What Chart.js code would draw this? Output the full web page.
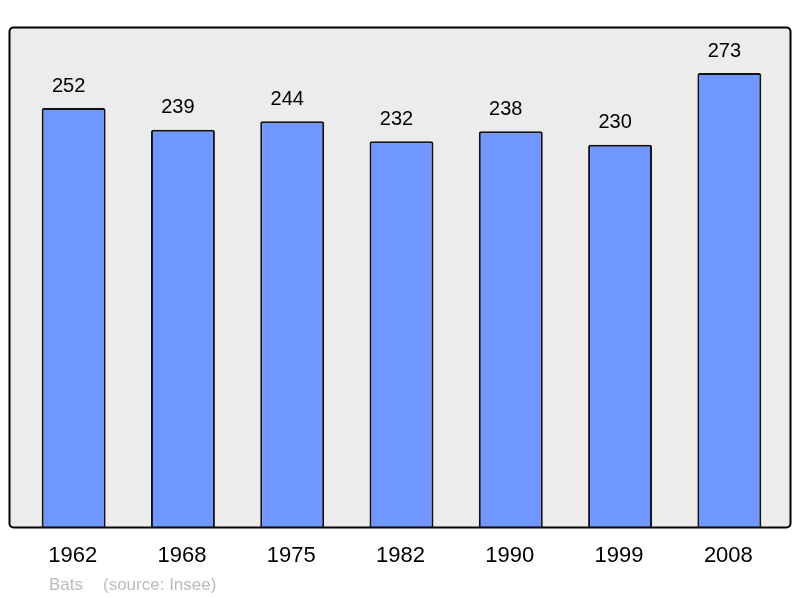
<!DOCTYPE html>
<html>
<head>
<meta charset="utf-8">
<script src="https://cdn.jsdelivr.net/npm/chart.js@4/dist/chart.umd.min.js"></script>
<style>
  html, body { margin: 0; padding: 0; background: #fff; }
  #wrap { width: 800px; height: 598px; }
</style>
</head>
<body>
<div id="wrap"><canvas id="popChart" width="800" height="598"></canvas></div>
<script>
// Population by census year
const years = ["1962", "1968", "1975", "1982", "1990", "1999", "2008"];
const population = [252, 239, 244, 232, 238, 230, 273];
const townName = "Bats";
const sourceNote = "(source: Insee)";

// Grey panel with black frame behind the bars
const panelPlugin = {
  id: "panel",
  beforeDraw(chart) {
    const ctx = chart.ctx;
    ctx.save();
    ctx.beginPath();
    ctx.roundRect(9.5, 27.5, 781, 500, 4);
    ctx.fillStyle = "#ececec";
    ctx.fill();
    ctx.restore();
  },
  afterDraw(chart) {
    const ctx = chart.ctx;
    const meta = chart.getDatasetMeta(0);
    const xScale = chart.scales.x;
    ctx.save();
    // frame on top so bars sit on it
    ctx.beginPath();
    ctx.roundRect(9.5, 27.5, 781, 500, 4);
    ctx.lineWidth = 2;
    ctx.strokeStyle = "#000";
    ctx.stroke();

    // value labels above bars (sit a bit left of bar centre, like the original)
    ctx.fillStyle = "#000";
    ctx.textAlign = "center";
    ctx.textBaseline = "middle";
    ctx.font = "20px 'Liberation Sans', Arial, sans-serif";
    meta.data.forEach((bar, i) => {
      ctx.fillText(String(population[i]), bar.x - 5, bar.y - 22);
    });

    // year labels under the panel
    ctx.font = "22px 'Liberation Sans', Arial, sans-serif";
    years.forEach((y, i) => {
      ctx.fillText(y, xScale.getPixelForValue(i) - 1, 556);
    });

    // footer
    ctx.textAlign = "left";
    ctx.fillStyle = "#bbbbbb";
    ctx.font = "17px 'Liberation Sans', Arial, sans-serif";
    ctx.fillText(townName, 49, 585);
    ctx.fillText(sourceNote, 103, 585);
    ctx.restore();
  },
};

const ctx = document.getElementById("popChart").getContext("2d");
const popChart = new Chart(ctx, {
  type: "bar",
  data: {
    labels: years,
    datasets: [
      {
        data: population,
        backgroundColor: "#7096ff",
        borderColor: "#111",
        borderWidth: 2,
        borderRadius: 2,
        borderSkipped: "bottom",
        barPercentage: 0.585,
        categoryPercentage: 1,
      },
    ],
  },
  options: {
    responsive: false,
    animation: false,
    layout: {
      padding: { left: 19, right: 16, top: 28, bottom: 70 },
    },
    plugins: {
      legend: { display: false },
      tooltip: { enabled: false },
    },
    scales: {
      x: { display: false },
      y: { display: false, min: 0, max: 300 },
    },
  },
  plugins: [panelPlugin],
});
</script>
</body>
</html>
